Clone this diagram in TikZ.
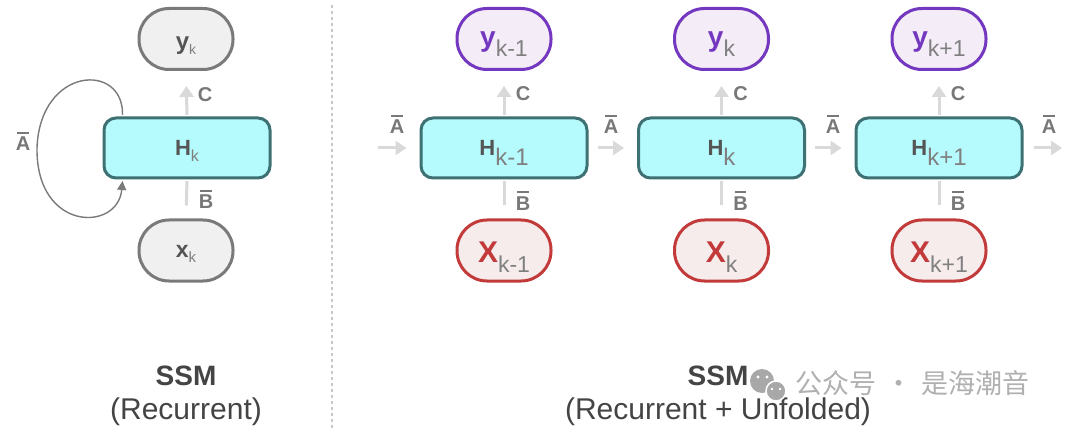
\documentclass[tikz,border=0pt]{standalone}
\usepackage{fontspec}
\setmainfont{Liberation Sans}
\newfontfamily\cjk{Noto Sans CJK SC}
\usetikzlibrary{arrows.meta,calc}
\definecolor{grayb}{HTML}{7A7A7A}
\definecolor{grayf}{HTML}{F0F0F0}
\definecolor{purpb}{HTML}{7438C0}
\definecolor{purpf}{HTML}{F4ECF6}
\definecolor{redb}{HTML}{C23A3A}
\definecolor{redf}{HTML}{F7ECEC}
\definecolor{hb}{HTML}{3E7173}
\definecolor{hf}{HTML}{B5FAFD}
\definecolor{arrowgray}{HTML}{D9D9D9}
\definecolor{lblgray}{HTML}{787878}
\definecolor{maintxt}{HTML}{555555}
\definecolor{subg}{HTML}{808080}
\definecolor{darktxt}{HTML}{444444}
\definecolor{wmgray}{HTML}{B0B0B0}
\definecolor{wmicon}{HTML}{A8A8A8}
\definecolor{sepgray}{HTML}{C8C8C8}
\newcommand\fs[1]{\fontsize{#1}{#1}\selectfont}
\newcommand\myobar[1]{\setbox0\hbox{#1}\rlap{\hbox to\wd0{\hss\raisebox{0.86em}{\rule{0.8\wd0}{0.1em}}\hss}}\box0}
\tikzset{
 pill/.style={rectangle, rounded corners=30pt, minimum width=94pt, minimum height=61pt, line width=3pt, inner sep=0pt, text depth=0pt},
 gpill/.style={pill, draw=grayb, fill=grayf},
 ppill/.style={pill, draw=purpb, fill=purpf},
 rpill/.style={pill, draw=redb, fill=redf},
 hbox/.style={rectangle, rounded corners=12pt, minimum width=166pt, minimum height=60pt, line width=3pt, draw=hb, fill=hf, inner sep=0pt, text height=16pt, text depth=0pt, text=maintxt},
 garrow/.style={draw=arrowgray, line width=3pt, -{Triangle[length=11pt,width=14pt]}},
 gline/.style={draw=arrowgray, line width=3pt},
 loopline/.style={draw=grayb, line width=1.4pt, -{Triangle[length=9pt,width=9pt]}},
 lbl/.style={text=lblgray, font=\fs{20}\bfseries, inner sep=0pt, anchor=base},
 sepline/.style={draw=sepgray, line width=1.2pt, dash pattern=on 3pt off 3pt},
}
\newcommand\HL[1]{{\fs{22}\bfseries H}\raisebox{-10pt}{\fs{24}\color{subg}#1}}
\newcommand\YL[1]{{\fs{28}\bfseries\color{purpb}y}\raisebox{-10pt}{\fs{23}\color{subg}#1}}
\newcommand\XL[1]{{\fs{30}\bfseries\color{redb}X}\raisebox{-10pt}{\fs{23}\color{subg}#1}}
\begin{document}
\begin{tikzpicture}[x=1pt,y=-1pt]
\useasboundingbox (0,0) rectangle (1080,433);
\fill[white] (0,0) rectangle (1080,433);
% separator
\draw[sepline] (332,5) -- (332,428);
% ---------- left: recurrent ----------
\node[gpill, text height=22pt, text=maintxt] (yl) at (186,39) {{\fs{24}\bfseries y}\raisebox{-5pt}{\fs{14}\color{subg}k}};
\node[hbox, text height=16pt] (Hl) at (187,148) {{\fs{22}\bfseries H}\raisebox{-6pt}{\fs{16}\color{subg}k}};
\node[gpill, text height=15pt, text=maintxt] (xl) at (186,250.5) {{\fs{23}\bfseries x}\raisebox{-5pt}{\fs{15}\color{subg}k}};
\draw[garrow, shorten <=1.5pt, shorten >=15pt] (Hl.north) -- (yl.south);
\draw[gline, shorten <=13pt, shorten >=1.5pt] (xl.north) -- (Hl.south);
\node[lbl] (cl) at (205,102) {C};
\node[lbl] (bl) at (206,209) {\myobar{B}};
\draw[loopline] ($(Hl.north west)+(20,-1.5)$) .. controls (124,62) and (40,66) .. (37,148) .. controls (36,232) and (118,232) .. ($(Hl.south west)+(20,1.5)$);
\node[lbl] (al) at (23,151) {\myobar{A}};
% bottom titles
\node[font=\fs{28}\bfseries, text=darktxt, anchor=base] (t1) at (186,385) {SSM};
\node[font=\fs{30}, text=darktxt, anchor=base] (t2) at (186,419) {(Recurrent)};
% ---------- right: unfolded ----------
\node[ppill, text height=16pt] (y1) at (504,39) {\YL{k-1}};
\node[ppill, text height=16pt] (y2) at (721.5,39) {\YL{k}};
\node[ppill, text height=16pt] (y3) at (939,39) {\YL{k+1}};
\node[hbox] (H1) at (504,148) {\HL{k-1}};
\node[hbox] (H2) at (721.5,148) {\HL{k}};
\node[hbox] (H3) at (939,148) {\HL{k+1}};
\node[rpill, text height=23pt] (x1) at (504,250.5) {\XL{k-1}};
\node[rpill, text height=23pt] (x2) at (721.5,250.5) {\XL{k}};
\node[rpill, text height=23pt] (x3) at (939,250.5) {\XL{k+1}};
\foreach \i in {1,2,3}{
  \draw[garrow, shorten <=1.5pt, shorten >=15pt] (H\i.north) -- (y\i.south);
  \draw[gline, shorten <=13pt, shorten >=1.5pt] (x\i.north) -- (H\i.south);
  \node[lbl] (c\i) at ($(H\i.north)+(19,-16)$) {C};
  \node[lbl] (b\i) at ($(H\i.south)+(19,31)$) {\myobar{B}};
}
\coordinate (in) at (378,148);
\coordinate (out) at (1062,148);
\draw[garrow, shorten >=13pt] (in) -- (H1.west);
\draw[garrow, shorten <=9pt, shorten >=13pt] (H1.east) -- (H2.west);
\draw[garrow, shorten <=9pt, shorten >=13pt] (H2.east) -- (H3.west);
\draw[garrow, shorten <=10pt] (H3.east) -- (out);
\node[lbl] (a0) at (397,134) {\myobar{A}};
\node[lbl] (a1) at (611,134) {\myobar{A}};
\node[lbl] (a2) at (833,134) {\myobar{A}};
\node[lbl] (a3) at (1049,134) {\myobar{A}};
\node[font=\fs{28}\bfseries, text=darktxt, anchor=base] (t3) at (718,385) {SSM};
\node[font=\fs{30}, text=darktxt, anchor=base] (t4) at (718,419) {(Recurrent + Unfolded)};
% watermark
\fill[wmicon] (762,381) circle (12);
\fill[wmicon, draw=white, line width=1.5pt] (776,391) circle (10);
\fill[white] (758,377) circle (1.6) (767,377) circle (1.6) (772,389) circle (1.3) (780,389) circle (1.3);
\node[font=\cjk\fs{27}, text=wmgray, anchor=west, inner sep=0pt] (wm) at (795,383) {公众号\hspace{9pt}·\hspace{9pt}是海潮音};
\end{tikzpicture}
\end{document}
